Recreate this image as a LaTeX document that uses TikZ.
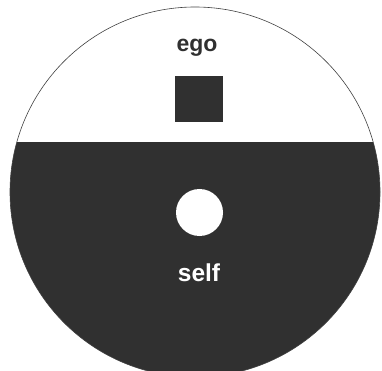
\documentclass[tikz,border=0pt]{standalone}
\usepackage{fontspec}
\setmainfont{Liberation Sans}
\usetikzlibrary{positioning}
\definecolor{ink}{gray}{0.19}
\begin{document}
\begin{tikzpicture}[
        x=1pt, y=-1pt,
        lbl/.style={font=\fontsize{23}{26}\selectfont\bfseries, inner sep=0pt, anchor=base},
        rim/.style={draw=black!75, line width=0.6pt}
    ]
    \useasboundingbox (0,0) rectangle (382,371);
    \clip (0,0) rectangle (382,371);
    \coordinate (c) at (195,192);
    % lower part of the disc is dark (the self)
    \begin{scope}
        \clip (0,143) rectangle (382,371);
        \fill[ink] (c) circle[radius=185];
    \end{scope}
    \draw[rim] (c) circle[radius=185];
    \node[fill=ink, minimum width=48, minimum height=46, inner sep=0pt] (sq) at (199,99) {};
    \node[circle, fill=white, minimum size=47, inner sep=0pt] (dot) at (199.5,212.5) {};
    \node[lbl, text=ink] (ego) at (197,52) {ego};
    \node[lbl, text=white, font=\fontsize{24.5}{27}\selectfont\bfseries] (self) at (199,281) {self};
\end{tikzpicture}
\end{document}
